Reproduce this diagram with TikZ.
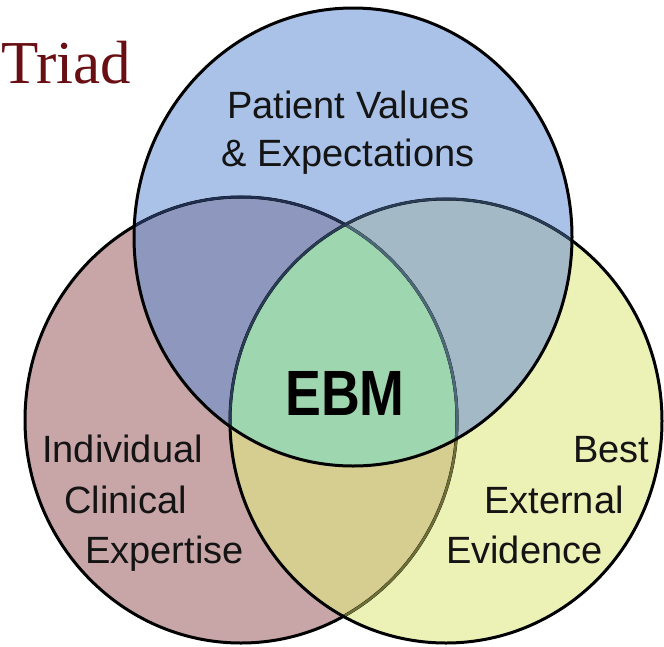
\documentclass[tikz,border=0pt]{standalone}
\usepackage{fontspec}
\setmainfont{Liberation Sans}
\newfontfamily\triadfont{Liberation Serif}
\definecolor{cTop}{RGB}{170,194,232}
\definecolor{cLeft}{RGB}{200,166,168}
\definecolor{cRight}{RGB}{236,242,182}
\definecolor{cTL}{RGB}{142,152,190}
\definecolor{cTR}{RGB}{163,186,198}
\definecolor{cLR}{RGB}{214,205,145}
\definecolor{cMid}{RGB}{158,214,176}
\definecolor{cNavy}{RGB}{30,45,80}
\definecolor{cSlate}{RGB}{40,60,85}
\definecolor{cTeal}{RGB}{75,105,120}
\definecolor{cOlive}{RGB}{110,110,55}
\definecolor{cTriad}{RGB}{105,15,20}
\definecolor{cText}{RGB}{20,20,20}
\begin{document}
\begin{tikzpicture}[x=1pt,y=-1pt,
  lbl/.style={anchor=base west,inner sep=0pt,text=cText,font=\fontsize{38}{44}\selectfont},
  outl/.style={line width=3pt},
  inl/.style={line width=2.6pt}]
\useasboundingbox (0,0) rectangle (664,646);
\fill[white] (0,0) rectangle (664,646);
\coordinate (T) at (353,237);
\coordinate (L) at (241,420);
\coordinate (R) at (446,421);
\def\topE{(T) ellipse [x radius=219pt, y radius=229pt]}
\def\leftE{(L) ellipse [x radius=216pt, y radius=223pt]}
\def\rightE{(R) ellipse [x radius=216pt, y radius=222pt]}
% fills
\fill[cLeft] \leftE;
\fill[cRight] \rightE;
\fill[cTop] \topE;
\begin{scope}\clip \leftE; \fill[cLR] \rightE; \end{scope}
\begin{scope}\clip \topE; \fill[cTL] \leftE; \end{scope}
\begin{scope}\clip \topE; \fill[cTR] \rightE; \end{scope}
\begin{scope}\clip \topE; \clip \leftE; \fill[cMid] \rightE; \end{scope}
% outlines: left circle
\draw[outl,black] \leftE;
\begin{scope}\clip \rightE; \draw[inl,cOlive] \leftE; \end{scope}
\begin{scope}\clip \topE; \draw[inl,cNavy] \leftE; \end{scope}
\begin{scope}\clip \topE; \clip \rightE; \draw[inl,cTeal] \leftE; \end{scope}
% right circle
\draw[outl,black] \rightE;
\begin{scope}\clip \topE; \draw[inl,cSlate] \rightE; \end{scope}
% top circle
\draw[outl,black] \topE;
% texts
\node[anchor=base west,inner sep=0pt,text=cTriad,font=\triadfont\fontsize{61}{70}\selectfont] (triad) at (1,83) {Triad};
\node[lbl] (p1) at (227,118) {Patient Values};
\node[lbl] (p2) at (221,166) {\& Expectations};
\node[lbl] (i1) at (42,462) {Individual};
\node[lbl] (i2) at (64,513) {Clinical};
\node[lbl] (i3) at (85,563) {Expertise};
\node[lbl] (b1) at (573,462) {Best};
\node[lbl] (b2) at (484,513) {External};
\node[lbl] (b3) at (446,563) {Evidence};
\node[anchor=base west,inner sep=0pt,text=black,font=\bfseries\fontsize{64}{70}\selectfont] (ebm) at (285,415) {\scalebox{0.84}[1]{EBM}};
\end{tikzpicture}
\end{document}
